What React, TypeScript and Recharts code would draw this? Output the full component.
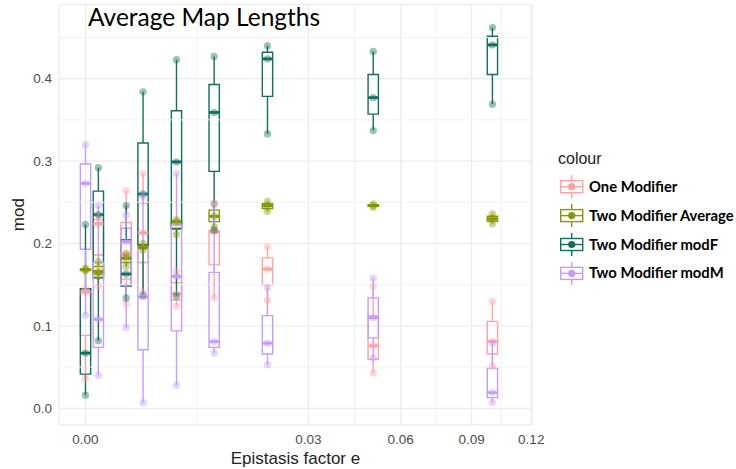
import React from 'react'
import {
  ComposedChart,
  Scatter,
  XAxis,
  YAxis,
  CartesianGrid,
  ReferenceArea,
  ReferenceLine
} from 'recharts'

// epistasis factor values used in the runs
const epistasis = [0, 0.0001, 0.001, 0.002, 0.005, 0.01, 0.02, 0.05, 0.1]

// three replicate map lengths per epistasis value
const oneModifier = [
  [0.036, 0.141, 0.145],
  [0.148, 0.224, 0.234],
  [0.127, 0.187, 0.264],
  [0.141, 0.213, 0.285],
  [0.124, 0.139, 0.166],
  [0.134, 0.214, 0.217],
  [0.131, 0.169, 0.196],
  [0.043, 0.076, 0.148],
  [0.051, 0.081, 0.13]
]
const twoModAverage = [
  [0.167, 0.168, 0.17],
  [0.16, 0.166, 0.178],
  [0.172, 0.182, 0.188],
  [0.192, 0.196, 0.2],
  [0.211, 0.226, 0.229],
  [0.22, 0.233, 0.248],
  [0.239, 0.246, 0.251],
  [0.244, 0.246, 0.248],
  [0.224, 0.23, 0.236]
]
const twoModF = [
  [0.016, 0.067, 0.223],
  [0.082, 0.235, 0.292],
  [0.134, 0.163, 0.246],
  [0.137, 0.26, 0.384],
  [0.136, 0.299, 0.423],
  [0.216, 0.359, 0.427],
  [0.333, 0.424, 0.44],
  [0.337, 0.377, 0.433],
  [0.369, 0.441, 0.462]
]
const twoModM = [
  [0.113, 0.273, 0.32],
  [0.04, 0.108, 0.246],
  [0.098, 0.202, 0.235],
  [0.007, 0.135, 0.257],
  [0.028, 0.16, 0.285],
  [0.067, 0.081, 0.249],
  [0.053, 0.079, 0.146],
  [0.061, 0.11, 0.158],
  [0.007, 0.019, 0.079]
]

const xTicks = [0, 0.03, 0.06, 0.09, 0.12]
const yTicks = [0, 0.1, 0.2, 0.3, 0.4]
const yMinor = [0.05, 0.15, 0.25, 0.35, 0.45]

const series = [
  { name: 'One Modifier', values: oneModifier, color: '#ffa3a3' },
  { name: 'Two Modifier Average', values: twoModAverage, color: '#879700' },
  { name: 'Two Modifier modF', values: twoModF, color: '#11705d' },
  { name: 'Two Modifier modM', values: twoModM, color: '#c49cff' }
]

// x axis is sqrt-transformed, so box widths live in sqrt units
const sq = (v: number) => (v < 0 ? -v * v : v * v)
const BOX_HALF = 0.004

// minor breaks sit halfway between major breaks on the sqrt scale
const xMinor = xTicks.slice(1).map((t, i) => sq((Math.sqrt(xTicks[i]) + Math.sqrt(t)) / 2))

function quantile(sorted: number[], p: number) {
  const h = (sorted.length - 1) * p
  const lo = Math.floor(h)
  const next = sorted[lo + 1] ?? sorted[lo]
  return sorted[lo] + (h - lo) * (next - sorted[lo])
}

function boxStats(values: number[][]) {
  return values.map((obs, i) => {
    const s = [...obs].sort((a, b) => a - b)
    const x = epistasis[i]
    return {
      x,
      x1: sq(Math.sqrt(x) - BOX_HALF),
      x2: sq(Math.sqrt(x) + BOX_HALF),
      lo: s[0],
      q1: quantile(s, 0.25),
      med: quantile(s, 0.5),
      q3: quantile(s, 0.75),
      hi: s[s.length - 1]
    }
  })
}

const pointsOf = (values: number[][]) =>
  values.flatMap((obs, i) => obs.map(y => ({ x: epistasis[i], y })))

const tickStyle = { fontSize: 13.5, fill: '#4d4d4d', fontFamily: 'Liberation Sans, Arial, sans-serif' }

export default function App() {
  return (
    <div style={{ position: 'absolute', left: 0, top: 0, width: 736, height: 469, background: '#fff' }}>
      <ComposedChart
        width={736}
        height={469}
        margin={{ top: 4.5, right: 204, bottom: 0, left: 9 }}
      >
        <CartesianGrid stroke="#ebebeb" strokeWidth={1.2} />
        {yMinor.map(v => (
          <ReferenceLine key={'ym' + v} y={v} stroke="#f2f2f2" strokeWidth={1} />
        ))}
        {xMinor.map(v => (
          <ReferenceLine key={'xm' + v} x={v} stroke="#f2f2f2" strokeWidth={1} />
        ))}
        <XAxis
          dataKey="x"
          type="number"
          scale="sqrt"
          domain={[-0.000424, 0.1204]}
          allowDataOverflow
          ticks={xTicks}
          tickFormatter={(v: number) => v.toFixed(2)}
          axisLine={false}
          tickLine={false}
          tickSize={0}
          tickMargin={10}
          height={44.2}
          tick={tickStyle}
          label={{
            value: 'Epistasis factor e',
            position: 'insideBottom',
            offset: 5,
            style: { fontSize: 17, fill: '#222', fontFamily: 'Liberation Sans, Arial, sans-serif' }
          }}
        />
        <YAxis
          dataKey="y"
          type="number"
          domain={[-0.02, 0.49]}
          allowDataOverflow
          ticks={yTicks}
          tickFormatter={(v: number) => v.toFixed(1)}
          axisLine={false}
          tickLine={false}
          tickSize={0}
          tickMargin={7}
          width={50}
          tick={tickStyle}
          label={{
            value: 'mod',
            angle: -90,
            position: 'insideLeft',
            offset: 9,
            style: { fontSize: 17, fill: '#222', textAnchor: 'middle', fontFamily: 'Liberation Sans, Arial, sans-serif' }
          }}
        />

        {series.map(s =>
          boxStats(s.values).map((b, i) => (
            <ReferenceArea
              key={s.name + 'box' + i}
              x1={b.x1}
              x2={b.x2}
              y1={b.q1}
              y2={b.q3}
              fill="none"
              fillOpacity={0}
              stroke={s.color}
              strokeWidth={1.4}
              ifOverflow="visible"
            />
          ))
        )}
        {series.map(s =>
          boxStats(s.values).flatMap((b, i) => [
            <ReferenceLine
              key={s.name + 'wl' + i}
              segment={[{ x: b.x, y: b.lo }, { x: b.x, y: b.q1 }]}
              stroke={s.color}
              strokeWidth={1.4}
              ifOverflow="visible"
            />,
            <ReferenceLine
              key={s.name + 'wh' + i}
              segment={[{ x: b.x, y: b.q3 }, { x: b.x, y: b.hi }]}
              stroke={s.color}
              strokeWidth={1.4}
              ifOverflow="visible"
            />,
            <ReferenceLine
              key={s.name + 'md' + i}
              segment={[{ x: b.x1, y: b.med }, { x: b.x2, y: b.med }]}
              stroke={s.color}
              strokeWidth={2.8}
              ifOverflow="visible"
            />
          ])
        )}

        {series.map(s => (
          <Scatter
            key={s.name}
            name={s.name}
            data={pointsOf(s.values)}
            dataKey="y"
            isAnimationActive={false}
            shape={(p: any) => (
              <circle cx={p.cx} cy={p.cy} r={3.7} fill={s.color} fillOpacity={0.42} />
            )}
          />
        ))}
      </ComposedChart>

      <svg
        width={736}
        height={469}
        style={{ position: 'absolute', left: 0, top: 0, pointerEvents: 'none' }}
      >
        <text x={88} y={26} fontSize={24.5} fontFamily="Lato, sans-serif" fill="#000">
          Average Map Lengths
        </text>
        <text x={558} y={164} fontSize={16} fontFamily="Liberation Sans, Arial, sans-serif" fill="#222">
          colour
        </text>
        {series.map((s, i) => {
          const cy = 186.7 + i * 28.9
          return (
            <g key={s.name}>
              <line x1={571.7} x2={571.7} y1={cy - 11.5} y2={cy + 11.5} stroke={s.color} strokeWidth={1.4} />
              <rect x={560.7} y={cy - 6} width={22} height={12} fill="#fff" stroke={s.color} strokeWidth={1.4} />
              <line x1={560.7} x2={582.7} y1={cy} y2={cy} stroke={s.color} strokeWidth={1.4} />
              <circle cx={571.7} cy={cy} r={3.6} fill={s.color} />
              <text x={589} y={cy + 5} fontSize={14.8} fontWeight="bold" fontFamily="Lato, sans-serif" fill="#000">
                {s.name}
              </text>
            </g>
          )
        })}
      </svg>
    </div>
  )
}
